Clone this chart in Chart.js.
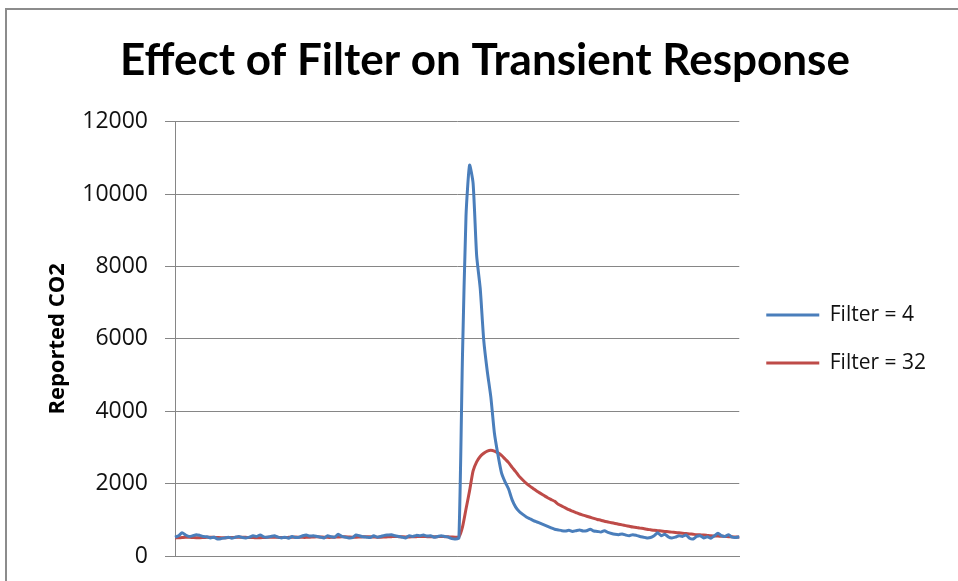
<!DOCTYPE html>
<html>
<head>
<meta charset="utf-8">
<title>Effect of Filter on Transient Response</title>
<script src="https://cdn.jsdelivr.net/npm/chart.js@4/dist/chart.umd.min.js"></script>
<style>
  html, body { margin: 0; padding: 0; background: #fff; }
  #wrap { position: absolute; left: 0; top: 0; width: 958px; height: 581px; }
  #frame { position: absolute; left: 5px; top: 8px; right: 0; bottom: 0;
           border-left: 2px solid #8c8c8c; border-top: 2px solid #8c8c8c; pointer-events: none; }
</style>
</head>
<body>
<div id="wrap">
  <canvas id="chart" width="958" height="581"></canvas>
  <div id="frame"></div>
</div>
<script>
// Reported CO2 readings (one value per sample)
const filter4 = [
  520, 560, 640, 580, 540, 560, 590, 570, 540, 530,
  500, 520, 470, 480, 500, 520, 490, 520, 540, 510,
  500, 520, 560, 540, 580, 530, 520, 540, 560, 520,
  500, 520, 490, 540, 510, 520, 560, 580, 550, 560,
  540, 520, 500, 560, 530, 520, 600, 540, 520, 500,
  510, 580, 560, 530, 520, 510, 560, 520, 540, 570,
  580, 590, 560, 540, 520, 500, 560, 540, 570, 560,
  580, 550, 560, 520, 540, 560, 540, 520, 480, 470,
  500, 5500, 9400, 10800, 10300, 8300, 7400, 5960, 5100, 4390,
  3400, 2800, 2300, 2050, 1850, 1550, 1350, 1230, 1150, 1080,
  1030, 980, 940, 900, 860, 820, 780, 740, 720, 700,
  690, 710, 680, 700, 720, 690, 700, 740, 690, 680,
  660, 700, 650, 620, 600, 590, 610, 580, 560, 590,
  570, 540, 520, 500, 510, 560, 640, 560, 600, 530,
  500, 520, 560, 540, 580, 490, 470, 540, 560, 500,
  530, 490, 560, 630, 560, 540, 590, 520, 510, 530
];

const filter32 = [
  500, 505, 510, 515, 515, 510, 505, 505, 510, 515,
  520, 515, 510, 505, 505, 510, 510, 515, 520, 520,
  515, 510, 510, 505, 505, 510, 515, 520, 520, 515,
  510, 510, 515, 520, 525, 520, 515, 515, 520, 525,
  530, 525, 520, 515, 515, 520, 525, 530, 530, 525,
  520, 520, 525, 530, 535, 530, 525, 520, 520, 525,
  530, 535, 540, 535, 530, 525, 525, 530, 535, 540,
  540, 535, 530, 530, 535, 540, 535, 530, 525, 520,
  530, 800, 1300, 1800, 2350, 2600, 2750, 2840, 2900, 2920,
  2900, 2850, 2780, 2680, 2580, 2450, 2330, 2200, 2100, 2010,
  1930, 1860, 1790, 1730, 1670, 1610, 1560, 1510, 1430, 1380,
  1330, 1280, 1240, 1200, 1160, 1130, 1100, 1070, 1040, 1010,
  990, 960, 940, 920, 900, 880, 860, 840, 820, 800,
  790, 770, 760, 740, 725, 710, 700, 690, 680, 670,
  660, 650, 640, 630, 620, 610, 600, 590, 585, 580,
  570, 560, 555, 550, 545, 540, 535, 530, 525, 520
];

const seriesNames = ['Filter = 4', 'Filter = 32'];
const seriesColors = ['#4a7ebb', '#be4b48'];
const yTicks = { min: 0, max: 12000, step: 2000 };

// sample numbers for the category axis (not shown)
const samples = filter4.map((_, i) => i + 1);

const gridGray = '#868686';

const ctx = document.getElementById('chart').getContext('2d');
const chart = new Chart(ctx, {
  type: 'line',
  data: {
    labels: samples,
    datasets: [filter4, filter32].map((vals, k) => ({
      label: seriesNames[k],
      data: vals,
      borderColor: seriesColors[k],
      backgroundColor: seriesColors[k],
      borderWidth: 3,
      pointRadius: 0,
      tension: 0.2,
      fill: false
    }))
  },
  options: {
    responsive: false,
    animation: false,
    layout: { padding: { left: 34, right: 22, top: 0, bottom: 25 } },
    scales: {
      x: {
        type: 'category',
        offset: false,
        grid: { display: false },
        border: { display: true, color: gridGray, width: 1 },
        ticks: { display: false },
        afterFit: (scale) => { scale.height = 0; }
      },
      y: {
        min: yTicks.min,
        max: yTicks.max,
        ticks: {
          stepSize: yTicks.step,
          padding: 17,
          color: '#111',
          font: { family: 'Open Sans', size: 23 },
          callback: (v) => String(v)
        },
        grid: { color: gridGray, lineWidth: 1, tickLength: 10, drawTicks: true },
        border: { display: true, color: gridGray, width: 1 },
        title: {
          display: true,
          text: 'Reported CO2',
          color: '#000',
          font: { family: 'Open Sans', size: 22, weight: 'bold' },
          padding: { top: 11, bottom: 0 }
        },
        afterFit: (scale) => {
          // plot starts at x = 175; tick labels may overhang top and bottom
          scale.width = 141;
          scale.paddingTop = 0;
          scale.paddingBottom = 0;
        }
      }
    },
    plugins: {
      title: {
        display: true,
        text: 'Effect of Filter on Transient Response',
        color: '#000',
        font: { family: 'Lato', size: 44, weight: 'bold' },
        padding: { top: 34, bottom: 35 }
      },
      legend: {
        position: 'right',
        fullSize: false,
        labels: {
          boxWidth: 53,
          boxHeight: 3,
          padding: 27,
          color: '#111',
          font: { family: 'Open Sans', size: 21 },
          generateLabels: (c) => Chart.defaults.plugins.legend.labels.generateLabels(c)
            .map((item) => ({ ...item, lineWidth: 0 }))
        }
      },
      tooltip: { enabled: false }
    }
  }
});
</script>
</body>
</html>
